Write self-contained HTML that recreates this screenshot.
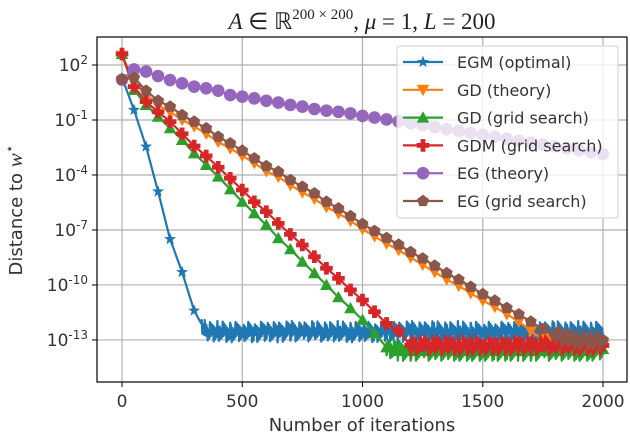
<!DOCTYPE html>
<html><head><meta charset="utf-8"><style>
html,body{margin:0;padding:0;background:#fff;}
svg{display:block;font-family:"DejaVu Sans","Liberation Sans",sans-serif;}
</style></head><body>
<svg id="chart" width="630" height="438" viewBox="0 0 630 438" xmlns="http://www.w3.org/2000/svg">
<text x="362" y="29" text-anchor="middle" font-family="Liberation Serif, serif" font-size="23" fill="#222"><tspan font-style="italic">A</tspan> ∈ ℝ<tspan dy="-10" font-size="15">200 × 200</tspan><tspan dy="10">, </tspan><tspan font-style="italic">μ</tspan> = 1, <tspan font-style="italic">L</tspan> = 200</text>
<g id="grid"></g>
<g id="series"></g>
<rect x="97" y="37" width="530" height="345" fill="none" stroke="#000" stroke-width="1.2"/>
<g id="ticks"></g>
<text x="362" y="431" text-anchor="middle" font-size="18" fill="#333">Number of iterations</text>
<text transform="translate(22,210) rotate(-90)" text-anchor="middle" font-size="18" fill="#333">Distance to <tspan font-family="Liberation Serif, serif" font-style="italic" font-size="21">w</tspan><tspan dy="-8" font-size="14">⋆</tspan></text>
<g id="legend"></g>
</svg>
<script>
const iters = [0,50,100,150,200,250,300,350,400,450,500,550,600,650,700,750,800,850,900,950,1000,1050,1100,1150,1200,1250,1300,1350,1400,1450,1500,1550,1600,1650,1700,1750,1800,1850,1900,1950,2000];
const egm = [1.3,-0.45,-2.45,-4.9,-7.5,-9.3,-11.4,-12.6,-12.5,-12.6,-12.5,-12.6,-12.5,-12.6,-12.5,-12.6,-12.5,-12.6,-12.5,-12.6,-12.5,-12.6,-12.5,-12.6,-12.5,-12.6,-12.5,-12.6,-12.5,-12.6,-12.5,-12.6,-12.5,-12.6,-12.5,-12.6,-12.5,-12.6,-12.5,-12.6,-12.5];
const gdTheory = [2.5,1.1,0.4,-0.2,-0.55,-1.0,-1.35,-1.75,-2.2,-2.55,-2.95,-3.35,-3.8,-4.1,-4.55,-4.95,-5.3,-5.75,-6.1,-6.5,-6.95,-7.35,-7.75,-8.1,-8.5,-8.9,-9.3,-9.7,-10.05,-10.45,-10.85,-11.2,-11.6,-12.0,-12.5,-13.0,-13.2,-13.3,-13.3,-13.3,-13.3];
const gdGrid = [2.6,0.64,-0.18,-0.82,-1.45,-2.09,-2.82,-3.45,-4.09,-4.78,-5.46,-6.09,-6.73,-7.45,-8.05,-8.73,-9.36,-10.0,-10.67,-11.27,-11.9,-12.64,-13.4,-13.6,-13.6,-13.6,-13.6,-13.6,-13.6,-13.6,-13.6,-13.6,-13.6,-13.6,-13.6,-13.6,-13.6,-13.6,-13.6,-13.6,-13.5];
const gdmGrid = [2.6,0.82,0.0,-0.55,-1.09,-1.75,-2.42,-2.96,-3.58,-4.18,-4.82,-5.46,-6.0,-6.64,-7.24,-7.82,-8.46,-9.09,-9.64,-10.27,-10.82,-11.46,-12.1,-12.5,-13.3,-13.3,-13.3,-13.3,-13.3,-13.3,-13.3,-13.3,-13.3,-13.3,-13.3,-13.3,-13.3,-13.3,-13.3,-13.3,-13.3];
const egTheory = [1.2,1.76,1.64,1.4,1.18,1.0,0.82,0.73,0.6,0.36,0.27,0.18,0.05,-0.05,-0.18,-0.27,-0.4,-0.49,-0.55,-0.64,-0.78,-0.87,-0.97,-1.08,-1.18,-1.29,-1.39,-1.5,-1.6,-1.71,-1.81,-1.92,-2.02,-2.13,-2.23,-2.34,-2.44,-2.55,-2.65,-2.76,-2.86];
const egGrid = [1.22,1.31,0.6,0.05,-0.27,-0.73,-1.09,-1.45,-1.91,-2.27,-2.67,-3.09,-3.51,-3.82,-4.27,-4.64,-5.0,-5.46,-5.82,-6.24,-6.67,-7.05,-7.43,-7.8,-8.2,-8.55,-8.95,-9.35,-9.7,-10.1,-10.5,-10.85,-11.25,-11.6,-12.0,-12.4,-12.7,-12.9,-13.0,-13.0,-13.0];
const floorFrom = [330,1750,1100,1200,99999,1800];
const seriesNames = ["EGM (optimal)","GD (theory)","GD (grid search)","GDM (grid search)","EG (theory)","EG (grid search)"];
const xTicks = [0,500,1000,1500,2000];
const yTicks = [2,-1,-4,-7,-10,-13];

const NS="http://www.w3.org/2000/svg";
const colors=["#1f77b4","#ff7f0e","#2ca02c","#d62728","#9467bd","#8c564b"];
const markers=["star","tdown","tup","plus","circle","pent"];
const allSeries=[egm,gdTheory,gdGrid,gdmGrid,egTheory,egGrid];
const X=v=>122+(v/2000)*481;
const Y=v=>65+(2-v)*18.33;
function mk(tag,attrs,parent){const e=document.createElementNS(NS,tag);for(const k in attrs)e.setAttribute(k,attrs[k]);parent.appendChild(e);return e;}
const grid=document.getElementById('grid'),ticks=document.getElementById('ticks'),ser=document.getElementById('series'),leg=document.getElementById('legend');
xTicks.forEach(t=>{
  const l=mk('line',{x1:X(t),x2:X(t),y1:37,y2:382,stroke:'#b0b0b0','stroke-width':1.2},grid);
  
  
  const tk=mk('line',{x1:X(t),x2:X(t),y1:382,y2:387,stroke:'#000'},ticks);
  
  
  const tx=mk('text',{x:X(t),y:407,'text-anchor':'middle','font-size':17,fill:'#333'},ticks);
  tx.textContent=t;
  
  
});
yTicks.forEach(t=>{
  const l=mk('line',{x1:97,x2:627,y1:Y(t),y2:Y(t),stroke:'#b0b0b0','stroke-width':1.2},grid);
  
  
  const tk=mk('line',{x1:92,x2:97,y1:Y(t),y2:Y(t),stroke:'#000'},ticks);
  
  
  const tx=mk('text',{x:88,y:Y(t)+6,'text-anchor':'end','font-size':17,fill:'#333'},ticks);
  
  
  const a=mk('tspan',{},tx);a.textContent='10';
  const b=mk('tspan',{dy:-7,'font-size':12},tx);b.textContent=String(t);
});
function marker(type,x,y,c,parent){
  let e;const r=6.3;
  if(type==='circle')e=mk('circle',{cx:x,cy:y,r:r},parent);
  else if(type==='tup')e=mk('polygon',{points:`${x},${y-r} ${x-r},${y+r*0.8} ${x+r},${y+r*0.8}`},parent);
  else if(type==='tdown')e=mk('polygon',{points:`${x},${y+r} ${x-r},${y-r*0.8} ${x+r},${y-r*0.8}`},parent);
  else if(type==='plus'){const w=2.4;e=mk('polygon',{points:`${x-w},${y-r} ${x+w},${y-r} ${x+w},${y-w} ${x+r},${y-w} ${x+r},${y+w} ${x+w},${y+w} ${x+w},${y+r} ${x-w},${y+r} ${x-w},${y+w} ${x-r},${y+w} ${x-r},${y-w} ${x-w},${y-w}`},parent);}
  else{const n=type==='star'?10:5;let p=[];for(let i=0;i<n;i++){const rr=type==='star'?(i%2?2.6:6.3):r;const a=-Math.PI/2+i*2*Math.PI/n;p.push((x+rr*Math.cos(a)).toFixed(1)+','+(y+rr*Math.sin(a)).toFixed(1));}e=mk('polygon',{points:p.join(' ')},parent);}
  e.setAttribute('fill',c);
  return e;
}
allSeries.forEach((vals,s)=>{
  const g=mk('g',{},ser);
  
  
  let pts=[];
  for(let i=0;i<iters.length;i++){
    if(i>0){
      const steps=16;
      for(let k=1;k<=steps;k++){
        const it=iters[i-1]+(iters[i]-iters[i-1])*k/steps;
        let v=vals[i-1]+(vals[i]-vals[i-1])*k/steps;
        if(it>=floorFrom[s]) v+=((k+i)%2?0.4:-0.4)*((k*7+i*3)%5/4+0.35);
        pts.push(X(it).toFixed(1)+','+Y(v).toFixed(1));
      }
    } else pts.push(X(iters[0])+','+Y(vals[0]).toFixed(1));
  }
  const pl=mk('polyline',{points:pts.join(' '),fill:'none',stroke:colors[s],'stroke-width':2.2,'stroke-linejoin':'round'},g);
  
  
  iters.forEach((it,i)=>{
    if(s===0 && it>300) return;
    const m=marker(markers[s],X(it),Y(vals[i]),colors[s],g);
    
    
  });
});
const box=mk('rect',{x:397,y:46,width:221,height:172,rx:3,fill:'rgba(255,255,255,0.8)',stroke:'#d0d0d0'},leg);


seriesNames.forEach((n,s)=>{
  const y=62+s*27.8;
  const g=mk('g',{},leg);
  
  
  mk('line',{x1:403,x2:443,y1:y,y2:y,stroke:colors[s],'stroke-width':2.2},g);
  marker(markers[s],423,y,colors[s],g);
  const t=mk('text',{x:457,y:y+6,'font-size':16,fill:'#333'},g);
  t.textContent=n;
});
</script>
</body></html>
